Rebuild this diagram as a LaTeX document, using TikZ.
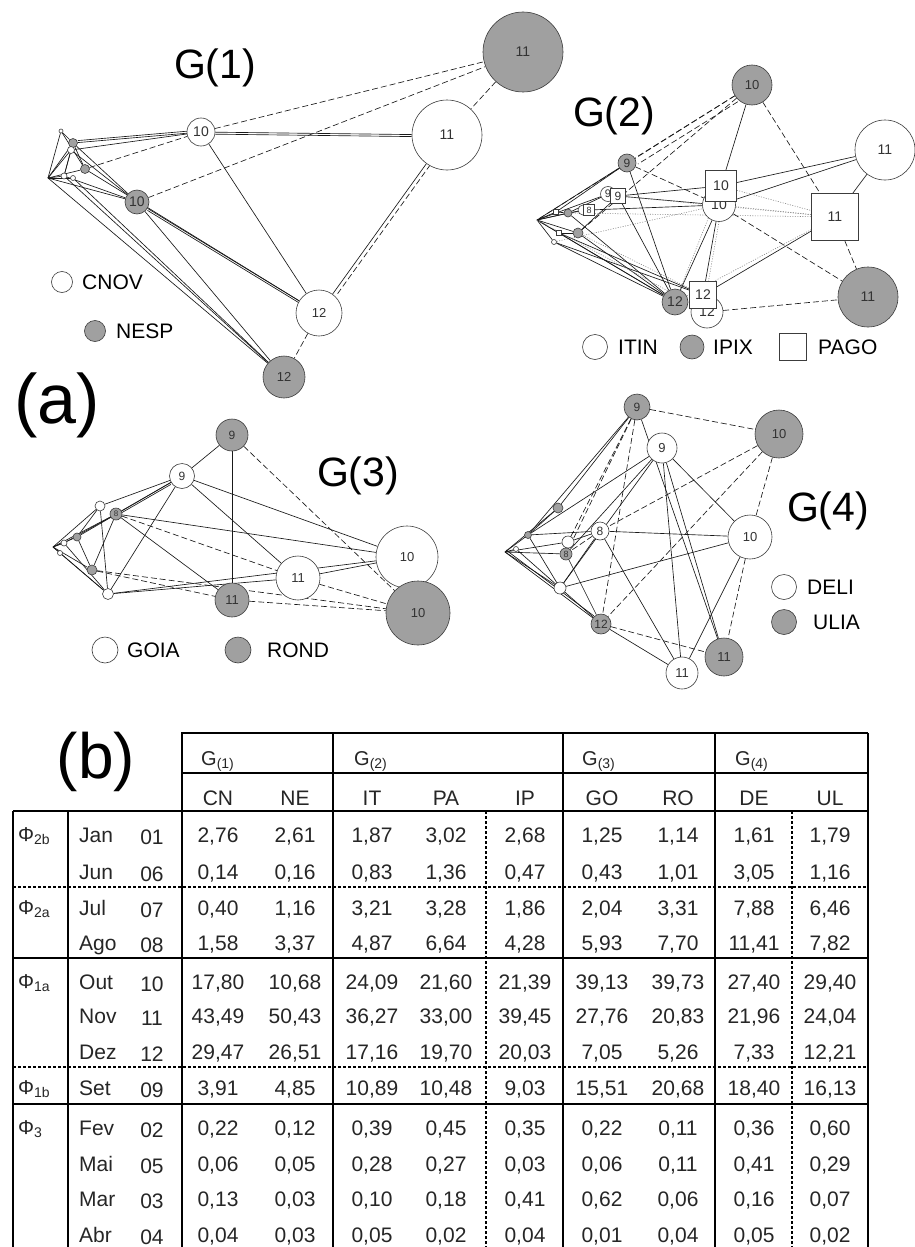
\documentclass[tikz,border=0pt]{standalone}
\usepackage{fontspec}
\setmainfont{Liberation Sans}
\newcommand\myfs[1]{\fontsize{#1}{#1}\selectfont}
\definecolor{gfill}{RGB}{160,160,160}
\definecolor{lc}{RGB}{60,60,60}
\pgfdeclarelayer{bgfill}
\pgfdeclarelayer{edges}
\pgfsetlayers{bgfill,edges,main}
\newcommand\RL[6]{%
 \node[tf] (r#1a) at (218,#1+7) {#2};
 \node[tf] (r#1b) at (295,#1+7) {#3};
 \node[tf] (r#1c) at (372,#1+7) {#4};
 \node[tf] (r#1d) at (446,#1+7) {#5};
 \node[tf] (r#1e) at (525,#1+7) {#6};}
\newcommand\RR[5]{%
 \node[tf] (r#1f) at (602,#1+7) {#2};
 \node[tf] (r#1g) at (678,#1+7) {#3};
 \node[tf] (r#1h) at (754,#1+7) {#4};
 \node[tf] (r#1i) at (830,#1+7) {#5};}
\newcommand\MM[3]{%
 \node[tf,anchor=base west] (m#1) at (79,#1+7) {#2};
 \node[tf] (n#1) at (152,#1+9) {#3};}
\begin{document}
\begin{tikzpicture}[x=1pt,y=-1pt,
 wc/.style={circle,draw=lc,fill=white,inner sep=0pt,line width=0.6pt,text=black!80},
 gc/.style={wc,fill=gfill},
 sq/.style={rectangle,draw=lc,fill=white,inner sep=0pt,line width=0.6pt,text=black!80},
 e/.style={draw=black!90,line width=0.65pt},
 ed/.style={e,dash pattern=on 6pt off 3pt},
 et/.style={draw=black!50,line width=0.55pt,dash pattern=on 1pt off 1.5pt},
 ttl/.style={font=\myfs{41}},
 leg/.style={font=\myfs{21},anchor=west,inner sep=0pt},
 tf/.style={font=\myfs{21},anchor=base,inner sep=0pt,text=black!85},
 thk/.style={line width=2.8pt},
 med/.style={line width=1.8pt},
 thn/.style={line width=1.3pt},
 tdash/.style={line width=1.2pt,dash pattern=on 3pt off 2pt}]
\begin{pgfonlayer}{bgfill}
\fill[white] (0,0) rectangle (915,1247);
\end{pgfonlayer}
\useasboundingbox (0,0) rectangle (915,1247);

% ================= G(1) =================
\node[ttl] (t1) at (215,68) {G(1)};
\node[gc,minimum size=80pt,font=\myfs{14}] (g1n11g) at (523,52) {11};
\node[wc,minimum size=70pt,font=\myfs{14}] (g1n11w) at (447,135) {11};
\node[wc,minimum size=28pt,font=\myfs{14}] (g1n10w) at (201,132) {10};
\node[gc,minimum size=24pt,font=\myfs{14}] (g1n10g) at (137,202) {10};
\node[wc,minimum size=46pt,font=\myfs{13}] (g1n12w) at (319,313) {12};
\node[gc,minimum size=42pt,font=\myfs{13}] (g1n12g) at (284,377) {12};
\coordinate (g1a) at (48,178);
\node[wc,minimum size=4pt] (g1t1) at (61,131) {};
\node[gc,minimum size=9pt] (g1s1) at (73,143) {};
\node[wc,minimum size=7pt] (g1s2) at (71,150) {};
\node[gc,minimum size=9pt] (g1s3) at (85,169) {};
\node[wc,minimum size=6pt] (g1s4) at (64,176) {};
\node[wc,minimum size=5pt] (g1s5) at (73,178) {};
\node[wc,minimum size=21pt] (l1a) at (62,282) {};
\node[leg] (l1at) at (82,282) {CNOV};
\node[gc,minimum size=21pt] (l1b) at (95,331) {};
\node[leg] (l1bt) at (116,331) {NESP};

% ================= G(2) =================
\node[ttl] (t2) at (614,116) {G(2)};
\coordinate (g2a) at (537,220);
\node[sq,minimum size=5pt] (g2c1) at (556,212) {};
\node[gc,minimum size=8pt] (g2c2) at (568,213) {};
\node[sq,minimum size=5pt] (g2c3) at (559,233) {};
\node[wc,minimum size=5pt] (g2c4) at (554,242) {};
\node[gc,minimum size=10pt] (g2c5) at (578,233) {};
\node[wc,minimum size=10pt] (g2c6) at (583,210) {};
\node[sq,minimum size=11pt,font=\myfs{9}] (g2n8s) at (589,210) {8};
\node[wc,minimum size=15pt,font=\myfs{11}] (g2n9w) at (608,194) {9};
\node[sq,minimum size=15pt,font=\myfs{12}] (g2n9s) at (618,196) {9};
\node[gc,minimum size=18pt,font=\myfs{12}] (g2n9g) at (627,163) {9};
\node[gc,minimum size=40pt,font=\myfs{13}] (g2n10g) at (752,85) {10};
\node[wc,minimum size=33pt,font=\myfs{14}] (g2n10w) at (719,205) {10};
\node[sq,minimum size=31pt,font=\myfs{14}] (g2n10s) at (721,186) {10};
\node[wc,minimum size=60pt,font=\myfs{14}] (g2n11w) at (885,150) {11};
\node[sq,minimum size=47pt,font=\myfs{14}] (g2n11s) at (835,217) {11};
\node[gc,minimum size=60pt,font=\myfs{14}] (g2n11g) at (868,297) {11};
\node[wc,minimum size=32pt,font=\myfs{14}] (g2n12w) at (707,312) {12};
\node[gc,minimum size=26pt,font=\myfs{14}] (g2n12g) at (675,302) {12};
\node[sq,minimum size=27pt,font=\myfs{14}] (g2n12s) at (703,295) {12};
\node[wc,minimum size=25pt] (l2a) at (595,347) {};
\node[leg] (l2at) at (618,347) {ITIN};
\node[gc,minimum size=24pt] (l2b) at (692,347) {};
\node[leg] (l2bt) at (713,347) {IPIX};
\node[sq,minimum size=27pt] (l2c) at (793,347) {};
\node[leg] (l2ct) at (818,347) {PAGO};

% ================= G(3) =================
\node[ttl] (t3) at (358,476) {G(3)};
\coordinate (g3a) at (53,547);
\node[wc,minimum size=6pt] (g3c1) at (64,543) {};
\node[gc,minimum size=8pt] (g3c2) at (77,537) {};
\node[wc,minimum size=5pt] (g3c3) at (60,553) {};
\node[wc,minimum size=10pt] (g3n8w) at (100,506) {};
\node[gc,minimum size=12pt,font=\myfs{8}] (g3n8g) at (116,514) {8};
\node[gc,minimum size=10pt] (g3n12g) at (92,570) {};
\node[wc,minimum size=11pt] (g3n12w) at (108,594) {};
\node[gc,minimum size=32pt,font=\myfs{12}] (g3n9g) at (232,435) {9};
\node[wc,minimum size=25pt,font=\myfs{12}] (g3n9w) at (182,476) {9};
\node[wc,minimum size=62pt,font=\myfs{13}] (g3n10w) at (407,557) {10};
\node[gc,minimum size=64pt,font=\myfs{13}] (g3n10g) at (418,613) {10};
\node[wc,minimum size=44pt,font=\myfs{13}] (g3n11w) at (298,578) {11};
\node[gc,minimum size=34pt,font=\myfs{13}] (g3n11g) at (232,600) {11};
\node[wc,minimum size=26pt] (l3a) at (105,650) {};
\node[leg] (l3at) at (127,650) {GOIA};
\node[gc,minimum size=26pt] (l3b) at (238,650) {};
\node[leg] (l3bt) at (267,650) {ROND};

% ================= G(4) =================
\node[ttl] (t4) at (828,511) {G(4)};
\coordinate (g4a) at (505,552);
\node[gc,minimum size=7pt] (g4c1) at (528,535) {};
\node[wc,minimum size=5pt] (g4c2) at (516,549) {};
\node[gc,minimum size=10pt] (g4n7g) at (558,508) {};
\node[wc,minimum size=12pt] (g4s1w) at (568,542) {};
\node[gc,minimum size=12pt,font=\myfs{9}] (g4n8g) at (566,554) {8};
\node[wc,minimum size=12pt] (g4s2w) at (560,588) {};
\node[wc,minimum size=18pt,font=\myfs{12}] (g4n8w) at (600,531) {8};
\node[gc,minimum size=20pt,font=\myfs{12}] (g4n12g) at (601,624) {12};
\node[gc,minimum size=26pt,font=\myfs{12}] (g4n9g) at (637,407) {9};
\node[wc,minimum size=30pt,font=\myfs{13}] (g4n9w) at (662,448) {9};
\node[gc,minimum size=48pt,font=\myfs{13}] (g4n10g) at (779,434) {10};
\node[wc,minimum size=44pt,font=\myfs{13}] (g4n10w) at (750,537) {10};
\node[wc,minimum size=32pt,font=\myfs{13}] (g4n11w) at (682,673) {11};
\node[gc,minimum size=38pt,font=\myfs{13}] (g4n11g) at (724,657) {11};
\node[wc,minimum size=25pt] (l4a) at (784,587) {};
\node[leg] (l4at) at (807,587) {DELI};
\node[gc,minimum size=25pt] (l4b) at (784,622) {};
\node[leg] (l4bt) at (813,622) {ULIA};

\node[font=\myfs{70}] (la) at (57,405) {(a)};

\begin{pgfonlayer}{edges}
% G1 edges
\foreach \u in {g1t1,g1s1,g1s2,g1s3,g1s4,g1s5} \draw[e] (g1a) -- (\u);
\draw[e] (g1t1) -- (g1s1); \draw[e] (g1t1) -- (g1s3); \draw[e] (g1s4) -- (g1s1);
\draw[e] (g1s1) -- (g1s3); \draw[e] (g1s2) -- (g1s4);
\draw[e] (g1a) -- (g1n10g); \draw[e] (g1s1) -- (g1n10g); \draw[e] (g1s2) -- (g1n10g);
\draw[e] (g1s4) -- (g1n10g);
\draw[e] (g1s1) -- (g1n10w); \draw[e] (g1s2) -- (g1n10w);
\draw[e,transform canvas={shift={(0,-2)}}] (g1s1) -- (g1n10w);
\draw[ed] (g1s3) -- (g1n10w);
\draw[e] (g1n10w) -- (g1n11w);
\draw[e,transform canvas={shift={(0,2)}}] (g1n10w) -- (g1n11w);
\draw[ed] (g1n10w) -- (g1n11g);
\draw[ed] (g1n10g) -- (g1n11g);
\draw[ed] (g1n11g) -- (g1n11w);
\draw[e] (g1n10w) -- (g1n12w);
\draw[e] (g1n11w) -- (g1n12w);
\draw[ed,transform canvas={shift={(4,1)}}] (g1n11w) -- (g1n12w);
\draw[ed] (g1n12w) -- (g1n12g);
\draw[e] (g1s3) -- (g1n12w); \draw[e] (g1n10g) -- (g1n12w);
\draw[e,transform canvas={shift={(0,2)}}] (g1n10g) -- (g1n12w);
\draw[e] (g1a) -- (g1n12g); \draw[e] (g1s4) -- (g1n12g); \draw[e] (g1s5) -- (g1n12g);
\draw[e] (g1n10g) -- (g1n12g);

% G2 edges
\foreach \u in {g2c1,g2c2,g2c3,g2c4,g2c5,g2c6,g2n9w,g2n9g} \draw[e] (g2a) -- (\u);
\draw[e] (g2c1) -- (g2c2); \draw[e] (g2c3) -- (g2c5); \draw[e] (g2c2) -- (g2n8s);
\draw[e] (g2c1) -- (g2n9g); \draw[e] (g2c2) -- (g2n9w); \draw[e] (g2c5) -- (g2n9s);
\foreach \u in {g2a,g2c3,g2c4,g2c5,g2c2} \draw[e] (\u) -- (g2n12g);
\draw[e] (g2c4) -- (g2n12s); \draw[e] (g2c3) -- (g2n12s);
\draw[et] (g2a) -- (g2n12w); \draw[et] (g2c5) -- (g2n12s); \draw[et] (g2c4) -- (g2n10w);
\draw[et] (g2c2) -- (g2n11s);
\draw[ed] (g2n10g) -- (g2n9g);
\draw[ed,transform canvas={shift={(3,6)}}] (g2n10g) -- (g2n9g);
\draw[ed] (g2n10g) -- (g2a);
\draw[ed] (g2n10g) -- (g2c5);
\draw[e] (g2n10g) -- (g2n10s);
\draw[ed] (g2n10g) -- (g2n11s);
\draw[ed] (g2n9g) -- (g2n10w);
\draw[e] (g2n9g) -- (g2n12g);
\draw[e] (g2n9s) -- (g2n12g);
\draw[e] (g2n9s) -- (g2n10s);
\draw[e] (g2n9s) -- (g2n10w);
\draw[et] (g2n9s) -- (g2n11s);
\draw[e] (g2n8s) -- (g2n10w);
\draw[e] (g2n11w) -- (g2n10s);
\draw[e] (g2n11w) -- (g2n10w);
\draw[e] (g2n11w) -- (g2n11s);
\draw[et] (g2n10s) -- (g2n11s);
\draw[et] (g2n10w) -- (g2n11s);
\draw[ed] (g2n10w) -- (g2n11g);
\draw[ed] (g2n11s) -- (g2n11g);
\draw[e] (g2n12s) -- (g2n11s);
\draw[et] (g2n12g) -- (g2n11s);
\draw[ed] (g2n12w) -- (g2n11g);
\draw[e] (g2n10w) -- (g2n12g);
\draw[e] (g2n10w) -- (g2n12s);
\draw[et,transform canvas={shift={(3,0)}}] (g2n10w) -- (g2n12s);
\draw[et] (g2n10s) -- (g2n12g);

% G3 edges
\foreach \u in {g3c1,g3c2,g3c3,g3n8w,g3n8g,g3n12g,g3n12w} \draw[e] (g3a) -- (\u);
\draw[e] (g3c1) -- (g3n8g); \draw[e] (g3c2) -- (g3n12g); \draw[e] (g3c2) -- (g3n8w);
\draw[e] (g3c1) -- (g3n12w); \draw[e] (g3c3) -- (g3n12w);
\draw[e] (g3n9g) -- (g3n9w);
\draw[e] (g3n9g) -- (g3n11g);
\draw[ed] (g3n9g) -- (g3n10g);
\draw[e] (g3n9w) -- (g3n8w);
\draw[e] (g3n9w) -- (g3n8g);
\draw[e,transform canvas={shift={(0,2)}}] (g3n9w) -- (g3n8g);
\draw[e] (g3n9w) -- (g3c2);
\draw[e] (g3n9w) -- (g3n12w);
\draw[e] (g3n9w) -- (g3n11w);
\draw[e] (g3n9w) -- (g3n10w);
\draw[e] (g3n8g) -- (g3n10w);
\draw[ed] (g3n8g) -- (g3n11w);
\draw[e] (g3n8g) -- (g3n11g);
\draw[e] (g3n8w) -- (g3n12w);
\draw[e] (g3n8g) -- (g3n12g);
\draw[e] (g3n12w) -- (g3n11w);
\draw[e] (g3n12w) -- (g3n10w);
\draw[e] (g3n11w) -- (g3n10w);
\draw[ed] (g3n12g) -- (g3n11g);
\draw[ed] (g3n12g) -- (g3n10g);
\draw[ed] (g3n11g) -- (g3n10g);
\draw[ed] (g3n11w) -- (g3n10g);

% G4 edges
\foreach \u in {g4c1,g4c2,g4n7g,g4s1w,g4n8g,g4s2w} \draw[e] (g4a) -- (\u);
\draw[e] (g4a) -- (g4n12g);
\draw[e,transform canvas={shift={(1,-2)}}] (g4a) -- (g4n12g);
\draw[e] (g4c2) -- (g4n12g);
\draw[e] (g4c1) -- (g4n8w); \draw[e] (g4c1) -- (g4n7g); \draw[e] (g4c1) -- (g4s2w);
\draw[e] (g4s1w) -- (g4n8w); \draw[e] (g4n8g) -- (g4n12g);
\draw[e] (g4n9g) -- (g4n7g);
\draw[e] (g4n9g) -- (g4c1);
\draw[e] (g4n9g) -- (g4n11g);
\draw[ed] (g4n9g) -- (g4n10g);
\draw[ed] (g4n9g) -- (g4s1w);
\draw[ed] (g4n9g) -- (g4n12g);
\draw[ed] (g4n9g) -- (g4n8g);
\draw[e] (g4n9w) -- (g4c1);
\draw[e] (g4n9w) -- (g4s2w);
\draw[e] (g4n9w) -- (g4n8g);
\draw[e] (g4n9w) -- (g4n11w);
\draw[e] (g4n9w) -- (g4n11g);
\draw[e] (g4n9w) -- (g4n10w);
\draw[ed] (g4n10g) -- (g4n10w);
\draw[ed] (g4n10g) -- (g4n8w);
\draw[ed] (g4n10g) -- (g4n12g);
\draw[e] (g4n8w) -- (g4n10w);
\draw[e] (g4n8w) -- (g4n11w);
\draw[e] (g4n8w) -- (g4s2w);
\draw[ed] (g4n8w) -- (g4n8g);
\draw[e] (g4s2w) -- (g4n10w);
\draw[e] (g4n10w) -- (g4n11w);
\draw[ed] (g4n10w) -- (g4n11g);
\draw[ed] (g4n12g) -- (g4n11g);
\draw[e] (g4n12g) -- (g4n11w);
\end{pgfonlayer}

% ================= Table =================
\node[font=\myfs{64}] (lb) at (96,762) {(b)};
\draw[thk] (182,1247) -- (182,733) -- (868,733);
\draw[med] (868,733) -- (868,1247);
\draw[med] (182,773) -- (868,773);
\draw[thk] (13,811) -- (868,811);
\draw[thk] (13,811) -- (13,1247);
\draw[med] (68,811) -- (68,1247);
\draw[thn] (333,733) -- (333,1247);
\draw[thk] (563,733) -- (563,1247);
\draw[thn] (715,733) -- (715,1247);
\draw[tdash] (486,811) -- (486,1247);
\draw[tdash] (792,811) -- (792,1247);
\draw[tdash] (13,887) -- (868,887);
\draw[thn] (13,958) -- (868,958);
\draw[tdash] (13,1067) -- (868,1067);
\draw[thk] (13,1104) -- (868,1104);

\node[tf,anchor=base west,font=\myfs{20}] (h1) at (201,765) {G\textsubscript{(1)}};
\node[tf,anchor=base west,font=\myfs{20}] (h2) at (354,765) {G\textsubscript{(2)}};
\node[tf,anchor=base west,font=\myfs{20}] (h3) at (582,765) {G\textsubscript{(3)}};
\node[tf,anchor=base west,font=\myfs{20}] (h4) at (735,765) {G\textsubscript{(4)}};
\node[tf] (hcn) at (218,805) {CN};
\node[tf] (hne) at (295,805) {NE};
\node[tf] (hit) at (372,805) {IT};
\node[tf] (hpa) at (446,805) {PA};
\node[tf] (hip) at (525,805) {IP};
\node[tf] (hgo) at (602,805) {GO};
\node[tf] (hro) at (678,805) {RO};
\node[tf] (hde) at (754,805) {DE};
\node[tf] (hul) at (830,805) {UL};

\node[tf,anchor=base west,font=\myfs{20}] (p1) at (18,841) {Φ\textsubscript{2b}};
\node[tf,anchor=base west,font=\myfs{20}] (p2) at (18,914) {Φ\textsubscript{2a}};
\node[tf,anchor=base west,font=\myfs{20}] (p3) at (18,988) {Φ\textsubscript{1a}};
\node[tf,anchor=base west,font=\myfs{20}] (p4) at (18,1094) {Φ\textsubscript{1b}};
\node[tf,anchor=base west,font=\myfs{20}] (p5) at (18,1134) {Φ\textsubscript{3}};

\MM{835}{Jan}{01}
\MM{872}{Jun}{06}
\MM{908}{Jul}{07}
\MM{943}{Ago}{08}
\MM{982}{Out}{10}
\MM{1016}{Nov}{11}
\MM{1052}{Dez}{12}
\MM{1088}{Set}{09}
\MM{1128}{Fev}{02}
\MM{1164}{Mai}{05}
\MM{1199}{Mar}{03}
\MM{1235}{Abr}{04}

\RL{835}{2,76}{2,61}{1,87}{3,02}{2,68}
\RR{835}{1,25}{1,14}{1,61}{1,79}
\RL{872}{0,14}{0,16}{0,83}{1,36}{0,47}
\RR{872}{0,43}{1,01}{3,05}{1,16}
\RL{908}{0,40}{1,16}{3,21}{3,28}{1,86}
\RR{908}{2,04}{3,31}{7,88}{6,46}
\RL{943}{1,58}{3,37}{4,87}{6,64}{4,28}
\RR{943}{5,93}{7,70}{11,41}{7,82}
\RL{982}{17,80}{10,68}{24,09}{21,60}{21,39}
\RR{982}{39,13}{39,73}{27,40}{29,40}
\RL{1016}{43,49}{50,43}{36,27}{33,00}{39,45}
\RR{1016}{27,76}{20,83}{21,96}{24,04}
\RL{1052}{29,47}{26,51}{17,16}{19,70}{20,03}
\RR{1052}{7,05}{5,26}{7,33}{12,21}
\RL{1088}{3,91}{4,85}{10,89}{10,48}{9,03}
\RR{1088}{15,51}{20,68}{18,40}{16,13}
\RL{1128}{0,22}{0,12}{0,39}{0,45}{0,35}
\RR{1128}{0,22}{0,11}{0,36}{0,60}
\RL{1164}{0,06}{0,05}{0,28}{0,27}{0,03}
\RR{1164}{0,06}{0,11}{0,41}{0,29}
\RL{1199}{0,13}{0,03}{0,10}{0,18}{0,41}
\RR{1199}{0,62}{0,06}{0,16}{0,07}
\RL{1235}{0,04}{0,03}{0,05}{0,02}{0,04}
\RR{1235}{0,01}{0,04}{0,05}{0,02}
\end{tikzpicture}
\end{document}
